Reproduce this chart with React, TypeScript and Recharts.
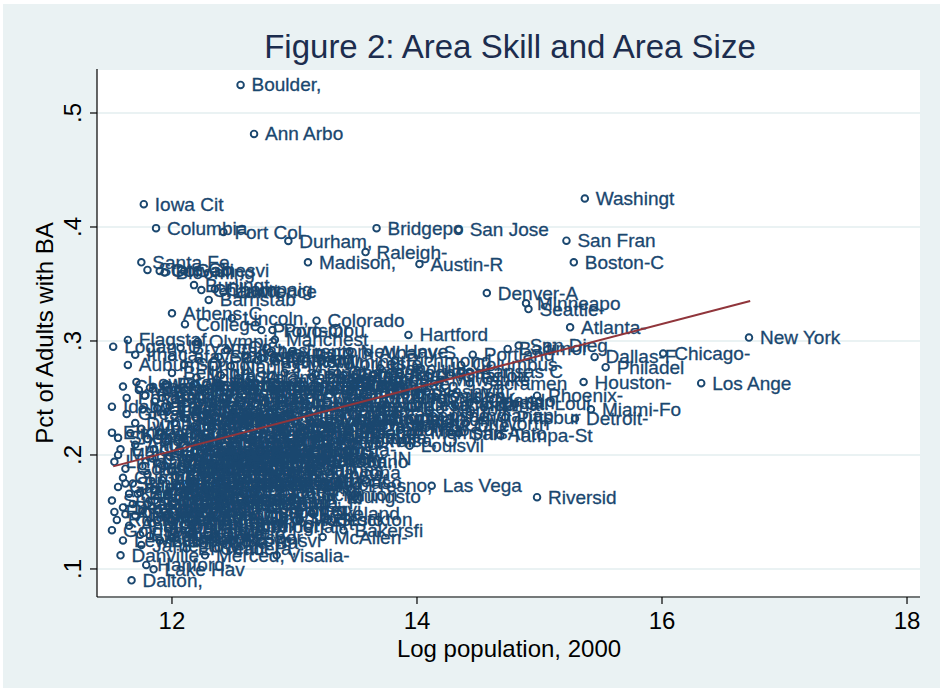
import React from "react";
import { ScatterChart, Scatter, XAxis, YAxis, CartesianGrid } from "recharts";

// [label, log population 2000, share of adults with BA]
type Metro = [string, number, number];

const largeMetros: Metro[] = [
  ["New York", 16.71, 0.303], ["Los Ange", 16.32, 0.263], ["Chicago-", 16.01, 0.289],
  ["Washingt", 15.37, 0.425], ["San Fran", 15.22, 0.388], ["Boston-C", 15.28, 0.369],
  ["Philadel", 15.54, 0.277], ["Dallas-F", 15.45, 0.286], ["Houston-", 15.36, 0.264],
  ["Miami-Fo", 15.42, 0.24], ["Detroit-", 15.29, 0.232], ["Atlanta-", 15.25, 0.312],
  ["Seattle-", 14.91, 0.328], ["Minneapo", 14.89, 0.333], ["Phoenix-", 14.98, 0.252],
  ["Riversid", 14.98, 0.163], ["San Dieg", 14.83, 0.296], ["Baltimor", 14.74, 0.293],
  ["Denver-A", 14.57, 0.342], ["St. Loui", 14.8, 0.245], ["Pittsbur", 14.72, 0.233],
  ["Tampa-St", 14.68, 0.217], ["Clevelan", 14.43, 0.246], ["Orlando-", 14.49, 0.248],
  ["Cincinna", 14.31, 0.244], ["Portland", 14.455, 0.288], ["Kansas C", 14.43, 0.273],
  ["Sacramen", 14.43, 0.263], ["Columbus", 14.36, 0.279], ["San Jose", 14.34, 0.3975],
  ["San Anto", 14.34, 0.219], ["Indianap", 14.43, 0.235], ["Las Vega", 14.12, 0.173],
  ["Norfolk-", 14.19, 0.2395], ["Milwauke", 14.19, 0.266], ["Charlott", 14.27, 0.27],
  ["Salt Lak", 14.15, 0.251], ["Austin-R", 14.02, 0.3675], ["Providen", 14.02, 0.2526],
  ["Oklahoma", 14.01, 0.244], ["Memphis-", 14.02, 0.22], ["New Orle", 14.02, 0.226],
  ["Nashvill", 14.08, 0.2556], ["Ft Worth", 14.4, 0.228],
];

const midMetros: Metro[] = [
  ["Hartford", 13.93, 0.3053], ["Raleigh-", 13.58, 0.378], ["Bridgepo", 13.67, 0.399],
  ["Madison,", 13.11, 0.369], ["Colorado", 13.18, 0.3178], ["Albany-S", 13.6, 0.29],
  ["Rocheste", 13.86, 0.272], ["Richmond", 13.82, 0.283], ["Honolulu", 13.7, 0.276],
  ["Omaha-Co", 13.49, 0.261], ["Albuquer", 13.53, 0.266], ["Greensbo", 13.82, 0.235],
  ["Jacksonv", 13.94, 0.231], ["Birmingh", 13.7, 0.2325], ["Dayton-S", 13.62, 0.226],
  ["Grand Ra", 13.62, 0.222], ["Tulsa, O", 13.66, 0.213], ["Buffalo-", 13.86, 0.222],
  ["Louisvil", 13.94, 0.208], ["Allentow", 13.37, 0.2307], ["Toledo,", 13.45, 0.22],
  ["Syracuse", 13.41, 0.2395], ["Tucson,", 13.49, 0.2438], ["Knoxvill", 13.37, 0.213],
  ["Fresno,", 13.51, 0.173], ["El Paso,", 13.25, 0.176], ["Bakersfi", 13.4, 0.134],
  ["Stockton", 13.27, 0.143], ["McAllen-", 13.23, 0.128], ["Lakeland", 13.14, 0.149],
  ["Youngsto", 13.3, 0.1634], ["Scranton", 13.13, 0.165], ["Modesto,", 13.04, 0.143],
  ["Salinas,", 13.13, 0.187], ["Chattano", 13.21, 0.194], ["Wilmingt", 13.22, 0.282],
  ["Worceste", 13.3, 0.28], ["New Have", 13.45, 0.291], ["Harrisbu", 13.17, 0.271],
  ["Charlest", 13.35, 0.272], ["Baton Ro", 13.4, 0.27], ["Oxnard-T", 13.65, 0.271],
  ["Springfi", 13.35, 0.266], ["Columbia", 13.28, 0.258], ["Little R", 13.22, 0.25],
  ["Wichita,", 13.25, 0.24], ["Mobile,", 13.28, 0.232], ["Jackson,", 13.25, 0.262],
  ["Des Moin", 13.32, 0.255], ["Greenvil", 13.45, 0.243], ["Akron, O", 13.4, 0.262],
  ["Sarasota", 13.45, 0.255], ["Fort Mye", 13.55, 0.25], ["Poughkee", 13.48, 0.263],
  ["Pensacol", 13.3, 0.22], ["Columbus", 13.2, 0.215], ["Fayettev", 13.15, 0.228],
  ["Augusta-", 13.12, 0.205], ["Fort Wal", 13.08, 0.221], ["Corpus C", 13.02, 0.202],
  ["Hickory-", 13.05, 0.212], ["Lubbock,", 13.0, 0.196], ["Brownsvi", 13.0, 0.183],
  ["Vallejo-", 13.06, 0.174], ["Spokane,", 13.05, 0.262], ["Boise Ci", 13.15, 0.268],
  ["Canton-M", 13.0, 0.23], ["Lancaste", 13.05, 0.248], ["Reading,", 13.12, 0.243],
  ["Jersey C", 13.32, 0.243], ["Middlese", 13.72, 0.244], ["Ventura,", 13.5, 0.228],
  ["Wilmingt", 13.6, 0.25], ["Tacoma,", 13.45, 0.215], ["Gary, IN", 13.3, 0.197],
  ["Columbia", 13.56, 0.232], ["Daytona", 13.2, 0.185], ["Jackson,", 13.1, 0.195],
];

const collegeTowns: Metro[] = [
  ["Boulder,", 12.56, 0.5246], ["Ann Arbo", 12.67, 0.4816], ["Iowa Cit", 11.77, 0.42],
  ["Columbia", 11.87, 0.399], ["Fort Col", 12.42, 0.3956], ["Durham,", 12.95, 0.3877],
  ["Santa Fe", 11.75, 0.369], ["State Co", 11.8, 0.3623], ["Corvalli", 11.9, 0.3614],
  ["Blooming", 11.94, 0.36], ["Gainesvi", 12.1, 0.3614], ["Burlingt", 12.18, 0.349],
  ["Charlott", 12.24, 0.3447], ["Champaig", 12.35, 0.3456], ["Lawrence", 12.42, 0.343],
  ["Barnstab", 12.3, 0.336], ["Athens-C", 12.0, 0.3243], ["College", 12.106, 0.3147],
  ["Lincoln,", 12.49, 0.32], ["Provo-Or", 12.73, 0.3096], ["Portsmou", 12.82, 0.3096],
  ["Manchest", 12.84, 0.301], ["Olympia,", 12.21, 0.2994], ["Flagstaf", 11.64, 0.3009],
  ["Logan, U", 11.52, 0.295], ["Auburn-O", 11.64, 0.279], ["Springfi", 12.1, 0.279],
  ["Naples-M", 12.48, 0.278], ["Lansing-", 12.92, 0.272], ["Trenton-", 12.98, 0.291],
  ["Bellingh", 12.0, 0.272], ["Kalamazo", 12.64, 0.268], ["Santa Cr", 12.38, 0.286],
  ["Santa Ba", 12.6, 0.287], ["Ithaca,", 11.7, 0.288], ["Fayettev", 12.7, 0.283],
  ["Tallahas", 12.45, 0.292], ["Lexingto", 12.8, 0.29], ["Bryan-Co", 12.07, 0.294],
  ["Anchorag", 12.73, 0.285], ["Huntsvil", 12.85, 0.282], ["Lafayett", 12.0, 0.286],
  ["Nashua,", 12.4, 0.27], ["Yolo, CA", 12.2, 0.268],
];

const smallMetros: Metro[] = [
  ["Idaho Fa", 11.51, 0.2424], ["Pocatell", 11.63, 0.25], ["Casper,", 11.6, 0.26],
  ["Lewiston", 11.71, 0.264], ["Missoula", 11.73, 0.257], ["Rapid Ci", 11.78, 0.252],
  ["Bismarck", 11.82, 0.259], ["Grand Fo", 11.86, 0.247], ["Cheyenne", 11.88, 0.241],
  ["Great Fa", 11.63, 0.236], ["Dubuque,", 11.7, 0.228], ["La Cross", 11.84, 0.235],
  ["Eau Clai", 11.96, 0.238], ["Sioux Fa", 12.08, 0.249], ["St. Clou", 12.12, 0.232],
  ["Rocheste", 11.95, 0.262], ["Lafayett", 12.05, 0.258], ["Columbia", 12.18, 0.262],
  ["Wausau,", 11.76, 0.24], ["Medford-", 12.22, 0.244], ["Fargo-Mo", 12.25, 0.258],
  ["Topeka,", 12.28, 0.237], ["Greeley,", 12.33, 0.242], ["Bangor,", 11.92, 0.25],
  ["Portland", 12.4, 0.262], ["Pittsfie", 11.98, 0.243], ["Janesvil", 12.5, 0.238],
  ["Appleton", 12.55, 0.25], ["Green Ba", 12.6, 0.243], ["Cedar Ra", 12.42, 0.255],
  ["Waterloo", 12.2, 0.233], ["Roanoke,", 12.52, 0.261], ["Lynchbur", 12.3, 0.23],
  ["Ashevill", 12.62, 0.258], ["Salem, O", 12.68, 0.235], ["Eugene-S", 12.7, 0.255],
  ["Reno, NV", 12.76, 0.246], ["Savannah", 12.68, 0.262], ["Charlest", 12.82, 0.258],
  ["Peoria-P", 12.83, 0.24], ["Evansvil", 12.88, 0.232], ["Fort Way", 12.9, 0.25],
  ["Rockford", 12.95, 0.236], ["York, PA", 12.98, 0.26],
  ["Elmira,", 11.51, 0.2196], ["Sheboyga", 11.56, 0.215], ["Kokomo,", 11.66, 0.219],
  ["Mansfiel", 11.56, 0.2], ["Lima, OH", 11.53, 0.194], ["Altoona,", 11.7, 0.209],
  ["Wheeling", 11.75, 0.223], ["Decatur,", 11.8, 0.214], ["Jonesbor", 11.85, 0.205],
  ["Williams", 11.9, 0.22], ["Parkersb", 11.95, 0.212], ["Owensbor", 11.98, 0.199],
  ["Muncie,", 12.02, 0.228], ["Anderson", 12.05, 0.203], ["Terre Ha", 12.1, 0.216],
  ["Joplin,", 12.14, 0.197], ["Fort Smi", 12.2, 0.208], ["Sioux Ci", 12.18, 0.225],
  ["Texarkan", 12.25, 0.2], ["Lake Cha", 12.28, 0.215], ["Monroe,", 12.32, 0.224],
  ["Alexandr", 12.35, 0.205], ["Abilene,", 12.38, 0.212], ["San Ange", 12.42, 0.22],
  ["Pueblo,", 12.45, 0.198], ["Yakima,", 12.5, 0.209], ["Redding,", 12.55, 0.215],
  ["Chico-Pa", 12.6, 0.226], ["Ocala, F", 12.62, 0.202], ["Erie, PA", 12.66, 0.212],
  ["Johnstow", 12.7, 0.196], ["Binghamt", 12.72, 0.222], ["Utica-Ro", 12.78, 0.205],
  ["Saginaw-", 12.82, 0.213], ["Beaumont", 12.86, 0.199], ["Shrevepo", 12.9, 0.218],
  ["Montgome", 12.92, 0.226], ["Davenpor", 12.97, 0.21],
  ["Cumberla", 11.6, 0.18], ["Gadsden,", 11.56, 0.172], ["Sumter,", 11.51, 0.16],
  ["Goldsbor", 11.62, 0.188], ["Pine Blu", 11.68, 0.175], ["Rocky Mo", 11.72, 0.166],
  ["Danville", 11.76, 0.19], ["Florence", 11.8, 0.183], ["Hattiesb", 11.85, 0.17],
  ["Dothan,", 11.88, 0.193], ["Anniston", 11.92, 0.178], ["Albany,", 11.96, 0.165],
  ["Victoria", 12.0, 0.186], ["Sherman-", 12.04, 0.173], ["Steubenv", 12.08, 0.19],
  ["Sharon,", 12.12, 0.168], ["Hagersto", 12.16, 0.18], ["Vineland", 12.2, 0.162],
  ["Punta Go", 12.24, 0.187], ["Panama C", 12.28, 0.175], ["Wichita", 12.32, 0.192],
  ["Lawton,", 12.36, 0.17], ["Odessa,", 12.4, 0.163], ["Midland,", 12.44, 0.185],
  ["Yuba Cit", 12.48, 0.174], ["Grand Ju", 12.52, 0.181], ["Fort Pie", 12.56, 0.19],
  ["Killeen-", 12.6, 0.178], ["Fayettev", 12.66, 0.168], ["Clarksvi", 12.7, 0.186],
  ["Jacksonv", 12.74, 0.175], ["Spartanb", 12.78, 0.188], ["Lafayett", 12.84, 0.178],
  ["Huntingt", 12.88, 0.17], ["Flint, M", 12.96, 0.163],
  ["Houma-Ba", 12.2, 0.123], ["Visalia-", 12.855, 0.112], ["Merced,", 12.27, 0.112],
  ["Yuma, AZ", 12.0, 0.127], ["Laredo,", 12.35, 0.131], ["Hanford-", 11.79, 0.1035],
  ["Jamestow", 11.75, 0.121], ["Lake Hav", 11.85, 0.0997], ["Danville", 11.58, 0.112],
  ["Dalton,", 11.67, 0.09], ["Elkhart-", 12.1, 0.145], ["Johnson", 12.05, 0.155],
  ["Kingspor", 12.55, 0.15], ["Florence", 11.53, 0.15], ["Rocky Mo", 11.55, 0.143],
  ["Goldsbor", 11.51, 0.134], ["Decatur,", 11.6, 0.154], ["Anniston", 11.65, 0.138],
  ["Jackson,", 11.7, 0.147], ["Elizabet", 11.74, 0.13], ["Salisbur", 11.8, 0.157],
  ["Morristo", 11.84, 0.14], ["Lumberto", 11.9, 0.125], ["Greenvil", 11.94, 0.15],
  ["Burlingt", 11.97, 0.136], ["Gastonia", 12.02, 0.158], ["Hickory", 12.14, 0.153],
  ["Lake Cit", 12.22, 0.148], ["Muskegon", 12.26, 0.157], ["Hanford", 12.3, 0.138],
  ["Millvill", 12.4, 0.145], ["Lenoir,", 12.45, 0.142], ["Brownsvi", 12.5, 0.125],
  ["Dunn, NC", 12.58, 0.156], ["Gettysbu", 12.66, 0.146], ["Imperial", 12.72, 0.137],
  ["Sebring,", 12.8, 0.152], ["Port Art", 12.88, 0.14], ["Portervi", 12.92, 0.152],
];

const moreSmallMetros: Metro[] = [
  ["Bay City", 12.26, 0.182], ["Benton H", 12.34, 0.196], ["Billings", 12.44, 0.229],
  ["Bremerto", 12.74, 0.218], ["Brockton", 12.57, 0.199], ["Charlest", 12.47, 0.186],
  ["Columbia", 12.63, 0.193], ["Danbury,", 12.3, 0.252], ["Dover, D", 12.03, 0.181],
  ["Duluth-S", 12.48, 0.233], ["Enid, OK", 11.58, 0.205], ["Fitchbur", 12.22, 0.195],
  ["Florence", 12.14, 0.176], ["Glens Fa", 11.84, 0.197], ["Greenvil", 12.38, 0.161],
  ["Hamilton", 12.64, 0.224], ["Jackson,", 12.18, 0.218], ["Jackson,", 12.06, 0.168],
  ["Johnson", 12.38, 0.176], ["Kenosha,", 12.3, 0.206], ["Kankakee", 11.65, 0.166],
  ["Lafayett", 12.27, 0.229], ["Las Cruc", 12.26, 0.205], ["Longview", 12.32, 0.147],
  ["Lowell,", 12.68, 0.245], ["Macon, G", 12.56, 0.173], ["Melbourn", 12.9, 0.204],
  ["Myrtle B", 12.13, 0.187], ["New Bedf", 12.18, 0.14], ["New Lond", 12.46, 0.214],
  ["Newburgh", 12.72, 0.203], ["Racine,", 12.14, 0.196], ["Richland", 12.1, 0.232],
  ["San Luis", 12.42, 0.25], ["South Be", 12.52, 0.198], ["Springfi", 12.36, 0.234],
  ["Springfi", 12.68, 0.191], ["Springfi", 13.07, 0.224], ["St. Jose", 11.62, 0.175],
  ["Tuscaloo", 12.18, 0.203], ["Tyler, T", 12.2, 0.188], ["Waco, TX", 12.28, 0.168],
  ["Waterbur", 12.68, 0.174], ["Wilmingt", 12.38, 0.262], ["Auburn,", 11.62, 0.148],
  ["Battle C", 11.98, 0.172], ["Biloxi-G", 12.56, 0.163], ["Brazoria", 12.38, 0.19],
  ["Columbus", 11.76, 0.151], ["Decatur,", 12.0, 0.143], ["Florence", 11.86, 0.16],
  ["Gainesvi", 11.94, 0.19], ["Jacksonv", 11.82, 0.129], ["Lewiston", 11.6, 0.125],
  ["Anderson", 12.44, 0.157], ["Alexandr", 12.02, 0.133], ["Danville", 12.16, 0.132],
  ["El Centr", 12.12, 0.118], ["Farmingt", 12.5, 0.138], ["Greenvil", 12.62, 0.16],
  ["Jonesbor", 12.34, 0.128], ["Madera,", 12.36, 0.118], ["Ocala, F", 12.86, 0.158],
  ["Sandusky", 11.68, 0.157], ["Mansfiel", 11.98, 0.155], ["Wheeling", 11.88, 0.143],
  ["Zanesvil", 11.74, 0.167], ["Beaumont", 12.96, 0.178],
];

const fitLine = [
  { x: 11.52, y: 0.19 },
  { x: 16.72, y: 0.335 },
];

const xTicks = [12, 14, 16, 18];
const yTicks = [0.1, 0.2, 0.3, 0.4, 0.5];

const NAVY = "#1a476f";
const MAROON = "#90353b";
const BG = "#eaf2f3";
const FONT = "'Liberation Sans', Arial, Helvetica, sans-serif";

const points = [...largeMetros, ...midMetros, ...collegeTowns, ...smallMetros, ...moreSmallMetros].map(
  ([name, x, y]) => ({ name, x, y })
);

function MetroMarker(props: any) {
  const { cx, cy, payload } = props;
  if (cx == null || cy == null) return null;
  return (
    <g>
      <circle cx={cx} cy={cy} r={3.3} fill="none" stroke={NAVY} strokeWidth={1.9} />
      <text
        x={cx + 11}
        y={cy + 6.5}
        fontSize={19}
        fill={NAVY}
        stroke={NAVY}
        strokeWidth={0.3}
        fontFamily={FONT}
      >
        {payload.name}
      </text>
    </g>
  );
}

function XTick({ x, payload }: any) {
  return (
    <text x={x} y={629} textAnchor="middle" fontSize={24} fontFamily={FONT} fill="#000">
      {payload.value}
    </text>
  );
}

function YTick({ y, payload }: any) {
  const label = String(payload.value).replace(/^0/, "");
  return (
    <text
      x={81}
      y={y}
      transform={`rotate(-90 81 ${y})`}
      textAnchor="middle"
      fontSize={24}
      fontFamily={FONT}
      fill="#000"
    >
      {label}
    </text>
  );
}

export default function App() {
  return (
    <div style={{ position: "absolute", left: 0, top: 0, width: 943, height: 690, background: "#fff" }}>
      <div style={{ position: "absolute", left: 3, top: 4, width: 937, height: 684, background: BG }} />
      <div style={{ position: "absolute", left: 0, top: 0 }}>
        <ScatterChart width={943} height={690} margin={{ top: 69, right: 23, bottom: 0, left: 0 }}>
          <CartesianGrid vertical={false} stroke={BG} strokeWidth={2} fill="#ffffff" />
          <XAxis
            type="number"
            dataKey="x"
            domain={[11.388, 18.106]}
            ticks={xTicks}
            height={93}
            tick={<XTick />}
            tickSize={7}
            axisLine={{ stroke: "#000", strokeWidth: 1.2 }}
            tickLine={{ stroke: "#000", strokeWidth: 1.2 }}
            allowDataOverflow
          />
          <YAxis
            type="number"
            dataKey="y"
            domain={[0.0754, 0.5386]}
            ticks={yTicks}
            width={97}
            tick={<YTick />}
            tickSize={7}
            axisLine={{ stroke: "#000", strokeWidth: 1.2 }}
            tickLine={{ stroke: "#000", strokeWidth: 1.2 }}
            allowDataOverflow
          />
          <Scatter data={points} shape={MetroMarker} isAnimationActive={false} />
          <Scatter
            data={fitLine}
            line={{ stroke: MAROON, strokeWidth: 2 }}
            shape={() => <g />}
            isAnimationActive={false}
          />
        </ScatterChart>
      </div>
      <svg
        width={943}
        height={690}
        style={{ position: "absolute", left: 0, top: 0, pointerEvents: "none" }}
      >
        <text x={510} y={58} textAnchor="middle" fontSize={33} fontFamily={FONT} fill="#1c2d4e">
          Figure 2: Area Skill and Area Size
        </text>
        <text x={509} y={657} textAnchor="middle" fontSize={24} fontFamily={FONT} fill="#000">
          Log population, 2000
        </text>
        <text
          x={53}
          y={333}
          transform="rotate(-90 53 333)"
          textAnchor="middle"
          fontSize={24}
          fontFamily={FONT}
          fill="#000"
        >
          Pct of Adults with BA
        </text>
      </svg>
    </div>
  );
}
